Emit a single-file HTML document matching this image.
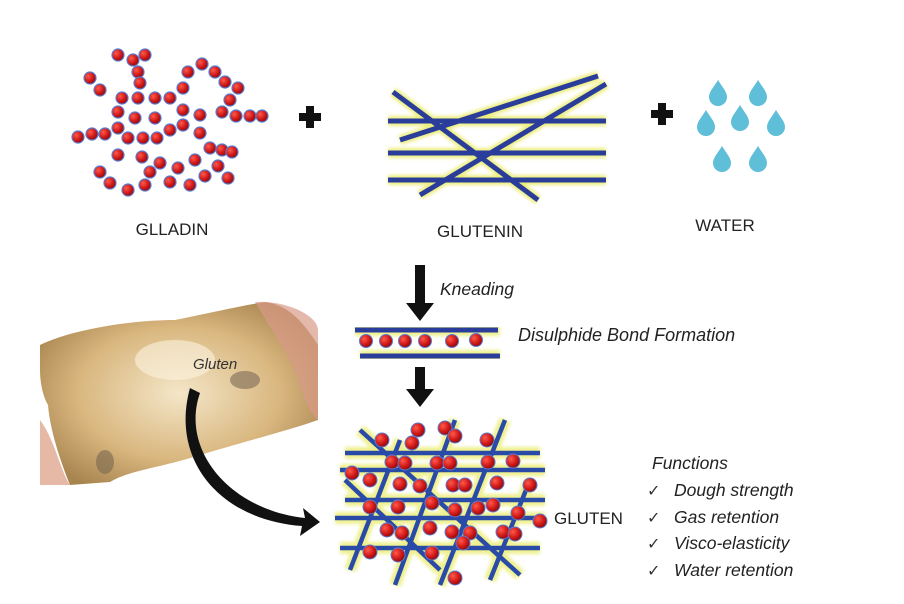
<!DOCTYPE html>
<html><head><meta charset="utf-8"><style>
html,body{margin:0;padding:0;background:#fff;}
svg{display:block;}
text{font-family:"Liberation Sans",sans-serif;}
</style></head><body>
<svg width="904" height="604" viewBox="0 0 904 604" xmlns="http://www.w3.org/2000/svg">
<defs>
<radialGradient id="ball" cx="0.35" cy="0.35" r="0.7">
<stop offset="0" stop-color="#ff5a4a"/><stop offset="0.6" stop-color="#d01818"/><stop offset="1" stop-color="#8a0a0a"/></radialGradient>
<radialGradient id="dough" cx="0.5" cy="0.5" r="0.6">
<stop offset="0" stop-color="#f4e6c8"/><stop offset="0.6" stop-color="#d9b77f"/><stop offset="1" stop-color="#a8844e"/></radialGradient>
<filter id="glow"><feGaussianBlur stdDeviation="1.5"/></filter>
</defs>

<g fill="url(#ball)" stroke="#5a7ad0" stroke-width="1.2">
<circle cx="118" cy="55" r="6"/><circle cx="133" cy="60" r="6"/><circle cx="145" cy="55" r="6"/><circle cx="138" cy="72" r="6"/>
<circle cx="90" cy="78" r="6"/><circle cx="100" cy="90" r="6"/><circle cx="122" cy="98" r="6"/><circle cx="138" cy="98" r="6"/>
<circle cx="155" cy="98" r="6"/><circle cx="170" cy="98" r="6"/><circle cx="140" cy="83" r="6"/>
<circle cx="188" cy="72" r="6"/><circle cx="202" cy="64" r="6"/><circle cx="215" cy="72" r="6"/><circle cx="225" cy="82" r="6"/>
<circle cx="238" cy="88" r="6"/><circle cx="230" cy="100" r="6"/><circle cx="222" cy="112" r="6"/><circle cx="236" cy="116" r="6"/>
<circle cx="250" cy="116" r="6"/><circle cx="262" cy="116" r="6"/><circle cx="183" cy="88" r="6"/><circle cx="183" cy="110" r="6"/>
<circle cx="200" cy="115" r="6"/><circle cx="118" cy="112" r="6"/><circle cx="135" cy="118" r="6"/><circle cx="155" cy="118" r="6"/>
<circle cx="118" cy="128" r="6"/><circle cx="78" cy="137" r="6"/><circle cx="92" cy="134" r="6"/><circle cx="105" cy="134" r="6"/>
<circle cx="128" cy="138" r="6"/><circle cx="143" cy="138" r="6"/><circle cx="157" cy="138" r="6"/><circle cx="170" cy="130" r="6"/>
<circle cx="183" cy="125" r="6"/><circle cx="200" cy="133" r="6"/><circle cx="210" cy="148" r="6"/><circle cx="222" cy="150" r="6"/>
<circle cx="232" cy="152" r="6"/><circle cx="118" cy="155" r="6"/><circle cx="142" cy="157" r="6"/><circle cx="160" cy="163" r="6"/>
<circle cx="178" cy="168" r="6"/><circle cx="195" cy="160" r="6"/><circle cx="218" cy="166" r="6"/><circle cx="228" cy="178" r="6"/>
<circle cx="100" cy="172" r="6"/><circle cx="110" cy="183" r="6"/><circle cx="128" cy="190" r="6"/><circle cx="145" cy="185" r="6"/>
<circle cx="150" cy="172" r="6"/><circle cx="170" cy="182" r="6"/><circle cx="190" cy="185" r="6"/><circle cx="205" cy="176" r="6"/>
</g>
<text x="172" y="235" font-size="17" text-anchor="middle" fill="#222">GLLADIN</text>

<path d="M306 106h8v7h7v8h-7v7h-8v-7h-7v-8h7z" fill="#111"/>
<path d="M658 103h8v7h7v8h-7v7h-8v-7h-7v-8h7z" fill="#111"/>

<g stroke-linecap="butt">
<g stroke="#e8ea60" stroke-width="10" opacity="0.8" filter="url(#glow)">
<line x1="388" y1="121" x2="606" y2="121"/><line x1="388" y1="153" x2="606" y2="153"/><line x1="388" y1="180" x2="606" y2="180"/>
<line x1="393" y1="92" x2="538" y2="200"/><line x1="400" y1="140" x2="598" y2="76"/><line x1="420" y1="195" x2="606" y2="84"/>
</g>
<g stroke="#2a3d9a" stroke-width="5">
<line x1="388" y1="121" x2="606" y2="121"/><line x1="388" y1="153" x2="606" y2="153"/><line x1="388" y1="180" x2="606" y2="180"/>
<line x1="393" y1="92" x2="538" y2="200"/><line x1="400" y1="140" x2="598" y2="76"/><line x1="420" y1="195" x2="606" y2="84"/>
</g></g>
<text x="480" y="237" font-size="17" text-anchor="middle" fill="#222">GLUTENIN</text>

<g fill="#5fbfd8">
<path d="M0-12 C5-4 9 0 9 5 A9 9 0 0 1 -9 5 C-9 0 -5-4 0-12z" transform="translate(718,92)"/>
<path d="M0-12 C5-4 9 0 9 5 A9 9 0 0 1 -9 5 C-9 0 -5-4 0-12z" transform="translate(758,92)"/>
<path d="M0-12 C5-4 9 0 9 5 A9 9 0 0 1 -9 5 C-9 0 -5-4 0-12z" transform="translate(706,122)"/>
<path d="M0-12 C5-4 9 0 9 5 A9 9 0 0 1 -9 5 C-9 0 -5-4 0-12z" transform="translate(740,117)"/>
<path d="M0-12 C5-4 9 0 9 5 A9 9 0 0 1 -9 5 C-9 0 -5-4 0-12z" transform="translate(776,122)"/>
<path d="M0-12 C5-4 9 0 9 5 A9 9 0 0 1 -9 5 C-9 0 -5-4 0-12z" transform="translate(722,158)"/>
<path d="M0-12 C5-4 9 0 9 5 A9 9 0 0 1 -9 5 C-9 0 -5-4 0-12z" transform="translate(758,158)"/>
</g>
<text x="725" y="231" font-size="17" text-anchor="middle" fill="#222">WATER</text>

<path d="M415 265h10v38h9l-14 18-14-18h9z" fill="#111"/>
<text x="440" y="295" font-size="17.5" font-style="italic" fill="#222">Kneading</text>
<path d="M415 367h10v22h9l-14 18-14-18h9z" fill="#111"/>

<g stroke="#e8ea60" stroke-width="12" opacity="0.7" filter="url(#glow)"><line x1="355" y1="330" x2="500" y2="330"/><line x1="360" y1="356" x2="500" y2="356"/></g>
<g stroke="#2a3d9a" stroke-width="5"><line x1="355" y1="330" x2="498" y2="330"/><line x1="360" y1="356" x2="500" y2="356"/></g>
<g fill="url(#ball)" stroke="#5a7ad0" stroke-width="1"><circle cx="366" cy="341" r="6.5"/><circle cx="386" cy="341" r="6.5"/><circle cx="405" cy="341" r="6.5"/><circle cx="425" cy="341" r="6.5"/><circle cx="452" cy="341" r="6.5"/><circle cx="476" cy="340" r="6.5"/></g>
<text x="518" y="341" font-size="18" font-style="italic" fill="#222">Disulphide Bond Formation</text>

<path d="M40 345 C70 330 130 320 175 320 C215 312 245 305 265 302 C290 305 305 325 318 345 L318 420 C290 430 250 440 200 455 C160 468 130 470 110 482 L70 485 C60 460 50 430 48 405 C42 395 40 380 40 370z" fill="url(#dough)"/>
<path d="M255 302 C285 300 318 315 318 330 L318 420 C305 410 300 380 290 360z" fill="#d89a88" opacity="0.7"/>
<path d="M40 420 C55 440 60 470 70 485 L40 485z" fill="#e0a890" opacity="0.8"/>
<ellipse cx="245" cy="380" rx="15" ry="9" fill="#8a7660" opacity="0.7"/>
<ellipse cx="105" cy="462" rx="9" ry="12" fill="#7a6850" opacity="0.6"/>
<ellipse cx="175" cy="360" rx="40" ry="20" fill="#fbf3e0" opacity="0.6"/>
<text x="193" y="369" font-size="15" font-style="italic" fill="#333">Gluten</text>
<path d="M200 393 C180 450 230 510 305 518 L303 508 L320 522 L300 536 L302 526 C220 520 170 460 190 388z" fill="#111"/>

<g stroke="#e8ea60" stroke-width="12" opacity="0.7" filter="url(#glow)">
<line x1="345" y1="453" x2="540" y2="453"/><line x1="340" y1="470" x2="545" y2="470"/><line x1="345" y1="500" x2="545" y2="500"/><line x1="335" y1="518" x2="545" y2="518"/><line x1="340" y1="548" x2="540" y2="548"/>
<line x1="395" y1="585" x2="455" y2="420"/><line x1="440" y1="585" x2="505" y2="420"/><line x1="350" y1="570" x2="400" y2="440"/><line x1="490" y1="580" x2="530" y2="480"/>
<line x1="360" y1="430" x2="520" y2="575"/><line x1="345" y1="480" x2="440" y2="570"/>
</g>
<g stroke="#2a4aa8" stroke-width="4.5">
<line x1="345" y1="453" x2="540" y2="453"/><line x1="340" y1="470" x2="545" y2="470"/><line x1="345" y1="500" x2="545" y2="500"/><line x1="335" y1="518" x2="545" y2="518"/><line x1="340" y1="548" x2="540" y2="548"/>
<line x1="395" y1="585" x2="455" y2="420"/><line x1="440" y1="585" x2="505" y2="420"/><line x1="350" y1="570" x2="400" y2="440"/><line x1="490" y1="580" x2="530" y2="480"/>
<line x1="360" y1="430" x2="520" y2="575"/><line x1="345" y1="480" x2="440" y2="570"/>
</g>
<g fill="url(#ball)" stroke="#5a7ad0" stroke-width="1">
<circle cx="418" cy="430" r="7"/><circle cx="445" cy="428" r="7"/><circle cx="455" cy="436" r="7"/><circle cx="382" cy="440" r="7"/><circle cx="412" cy="443" r="7"/><circle cx="487" cy="440" r="7"/>
<circle cx="392" cy="462" r="7"/><circle cx="405" cy="463" r="7"/><circle cx="437" cy="463" r="7"/><circle cx="450" cy="463" r="7"/><circle cx="488" cy="462" r="7"/><circle cx="513" cy="461" r="7"/>
<circle cx="352" cy="473" r="7"/><circle cx="370" cy="480" r="7"/><circle cx="400" cy="484" r="7"/><circle cx="420" cy="486" r="7"/><circle cx="453" cy="485" r="7"/><circle cx="465" cy="485" r="7"/><circle cx="497" cy="483" r="7"/><circle cx="530" cy="485" r="7"/>
<circle cx="370" cy="507" r="7"/><circle cx="398" cy="507" r="7"/><circle cx="432" cy="503" r="7"/><circle cx="455" cy="510" r="7"/><circle cx="478" cy="508" r="7"/><circle cx="493" cy="505" r="7"/><circle cx="518" cy="513" r="7"/><circle cx="540" cy="521" r="7"/>
<circle cx="387" cy="530" r="7"/><circle cx="402" cy="533" r="7"/><circle cx="430" cy="528" r="7"/><circle cx="452" cy="532" r="7"/><circle cx="470" cy="533" r="7"/><circle cx="503" cy="532" r="7"/><circle cx="515" cy="534" r="7"/>
<circle cx="370" cy="552" r="7"/><circle cx="398" cy="555" r="7"/><circle cx="432" cy="553" r="7"/><circle cx="463" cy="543" r="7"/><circle cx="455" cy="578" r="7"/>
</g>
<text x="554" y="524" font-size="17" fill="#222">GLUTEN</text>

<g font-size="17.5" font-style="italic" fill="#222">
<text x="652" y="469">Functions</text>
<text x="674" y="496">Dough strength</text>
<text x="674" y="523">Gas retention</text>
<text x="674" y="549">Visco-elasticity</text>
<text x="674" y="576">Water retention</text>
</g>
<g font-size="16" fill="#333"><text x="647" y="496">✓</text><text x="647" y="523">✓</text><text x="647" y="549">✓</text><text x="647" y="576">✓</text></g>
</svg>
</body></html>
